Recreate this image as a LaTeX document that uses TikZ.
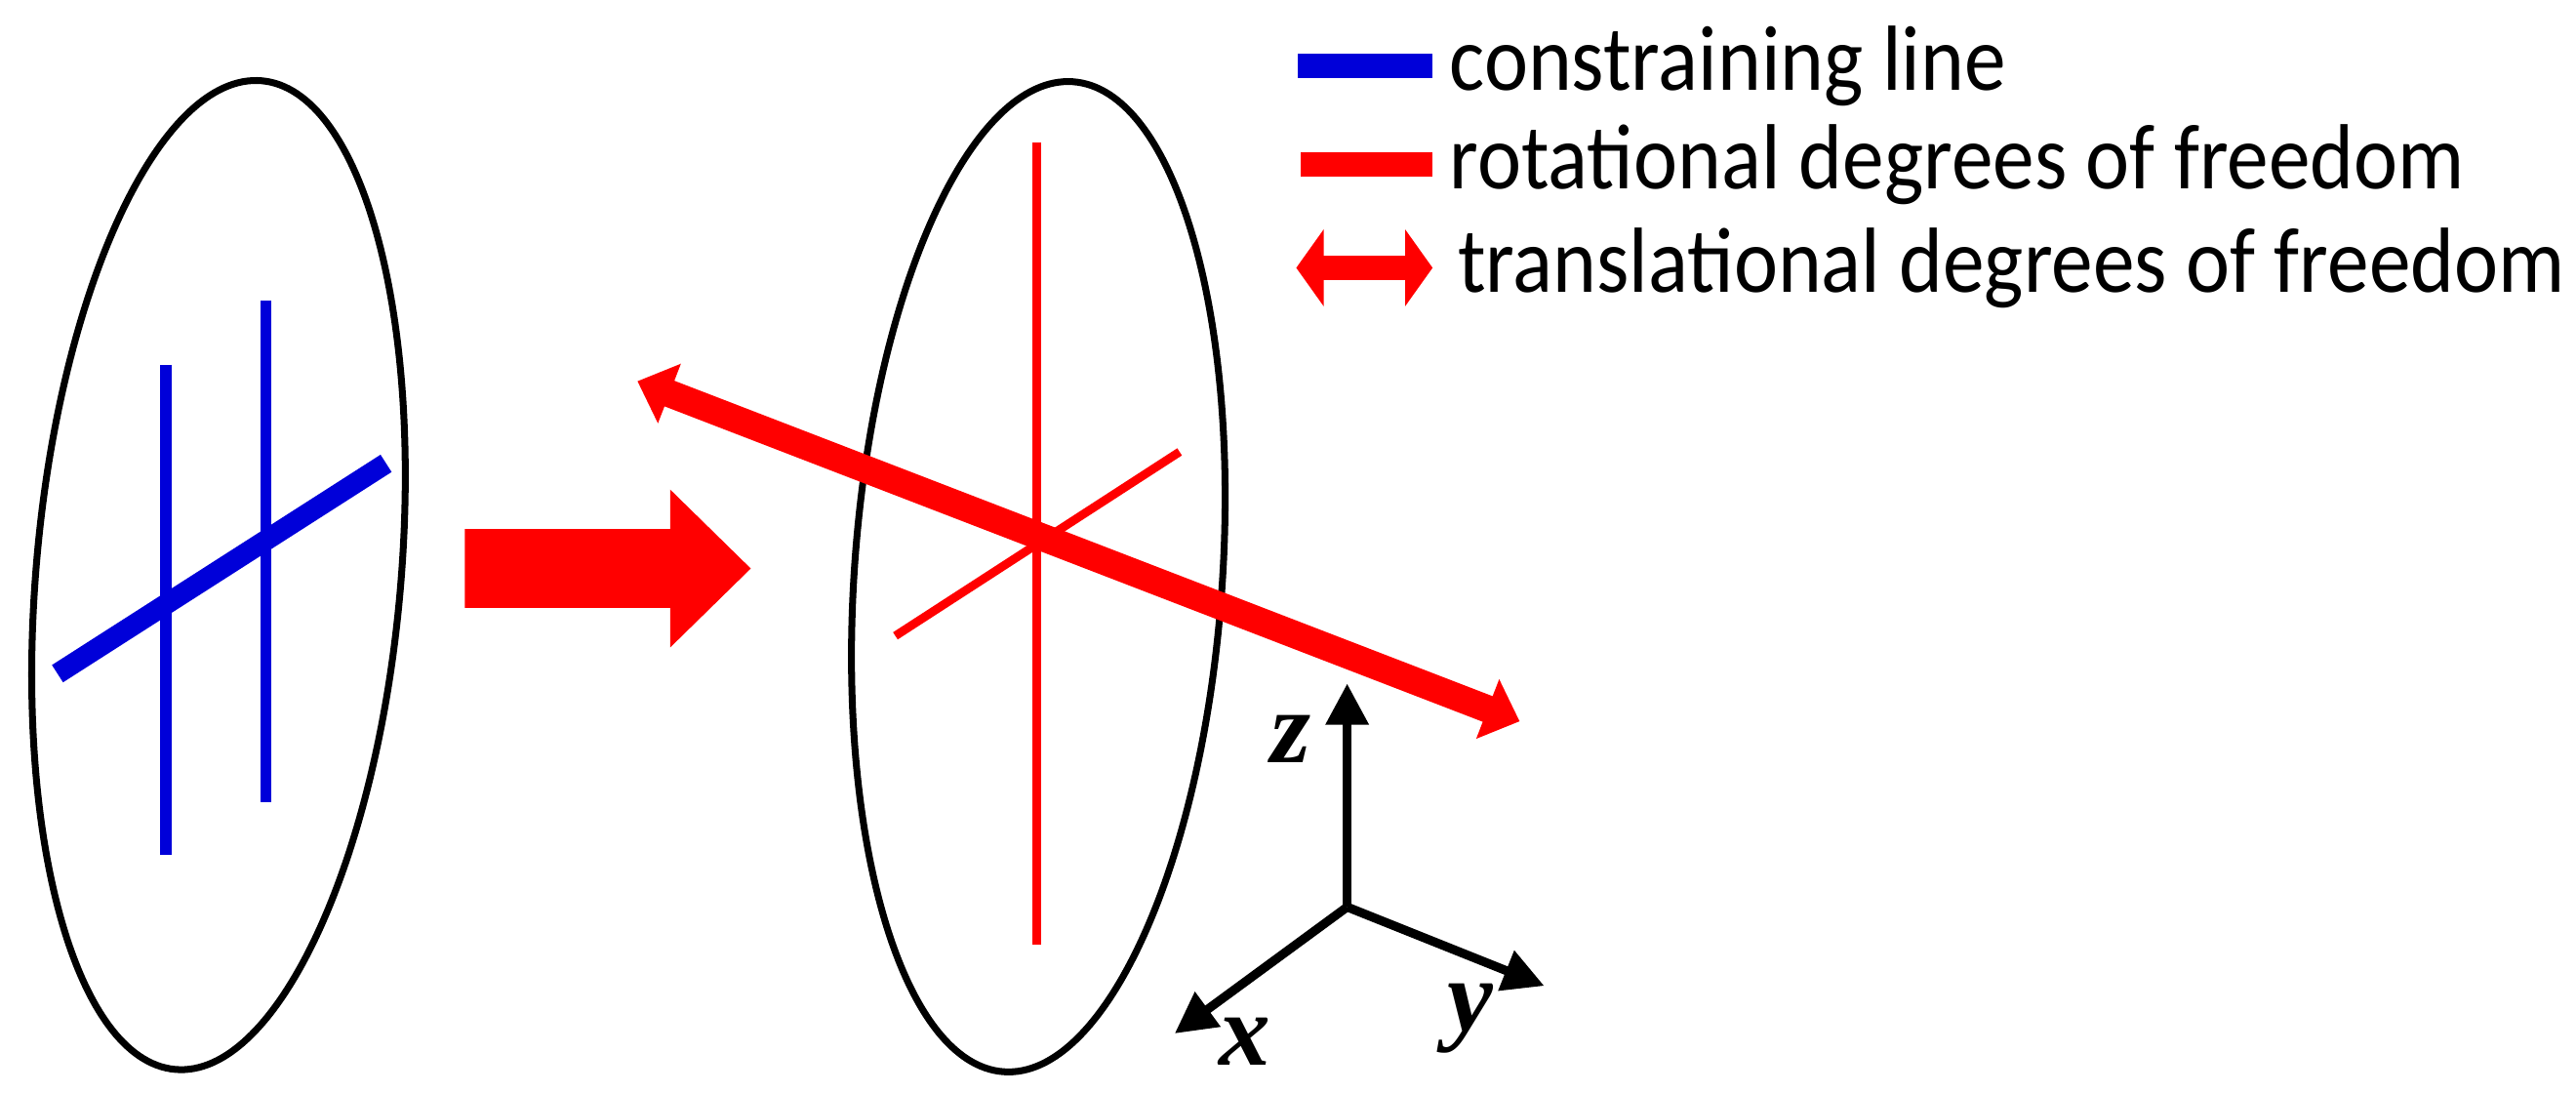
\documentclass[tikz,border=0pt]{standalone}
\usepackage{fontspec}
\setmainfont[FakeStretch=0.9]{Carlito}
\newfontfamily\axfont{Liberation Serif}
\usetikzlibrary{positioning}
\usetikzlibrary{arrows.meta}

\tikzset{
  plate/.style={black, line width=2pt},
  cline/.style={draw=blue!85!black, line width=3.2pt},
  cdiag/.style={draw=blue!85!black, line width=6pt},
  rline/.style={draw=red, line width=2.5pt},
  tarrow/.style={draw=red, line width=8pt, {Triangle[length=10pt,width=18pt]}-{Triangle[length=10pt,width=18pt]}},
  axis/.style={black, line width=2.6pt, -{Triangle[length=12pt,width=12pt]}},
  axlabel/.style={font=\fontsize{30}{30}\selectfont\axfont\bfseries\itshape},
  legtext/.style={anchor=west, font=\fontsize{27}{27}\selectfont, inner sep=0pt}
}

\begin{document}
\begin{tikzpicture}[x=0.01684cm, y=-0.01684cm]
\useasboundingbox (0,0) rectangle (1568,665);
%plates
\draw[plate, rotate around={-5:(133,350)}] (133,350) ellipse (111 and 302);
\draw[plate, rotate around={-4:(632,351)}] (632,351) ellipse (112 and 302);
%constraining lines
\coordinate (b1t) at (101,222); \coordinate (b1b) at (101,520);
\coordinate (b2t) at (162,183); \coordinate (b2b) at (162,488);
\coordinate (bdl) at (35,410); \coordinate (bdr) at (235,282);
\draw[cline] (b1t) -- (b1b);
\draw[cline] (b2t) -- (b2b);
\draw[cdiag] (bdl) -- (bdr);
%big arrow
\fill[red] (283,322) -- (408,322) -- (408,298) -- (457,346) -- (408,394) -- (408,370) -- (283,370) -- cycle;
%rotational
\coordinate (rvt) at (631,87); \coordinate (rvb) at (631,575);
\coordinate (rdl) at (545,387); \coordinate (rdr) at (718,275);
\draw[rline] (rvt) -- (rvb);
\draw[rline] (rdl) -- (rdr);
%translational
\coordinate (tl) at (388,232); \coordinate (tr) at (925,439);
\draw[tarrow] (tl) -- (tr);
%axes
\coordinate (o) at (820,552);
\coordinate (az) at (820,416);
\coordinate (ay) at (940,600);
\coordinate (ax) at (715,629);
\draw[axis] (o) -- (az);
\draw[axis] (o) -- (ay);
\draw[axis] (o) -- (ax);
\node[axlabel] (lz) at (786,450) {z};
\node[axlabel] (ly) at (895,620) {y};
\node[axlabel] (lx) at (758,634) {x};
%legend
\coordinate (l1a) at (790,40); \coordinate (l1b) at (872,40);
\coordinate (l2a) at (792,100); \coordinate (l2b) at (872,100);
\coordinate (l3a) at (789,163); \coordinate (l3b) at (872,163);
\draw[draw=blue!85!black, line width=7pt] (l1a) -- (l1b);
\draw[draw=red, line width=7pt] (l2a) -- (l2b);
\draw[draw=red, line width=7pt, {Triangle[length=8pt,width=22pt]}-{Triangle[length=8pt,width=22pt]}] (l3a) -- (l3b);
\node[legtext] (t1) at (882,40) {constraining line};
\node[legtext] (t2) at (882,100) {rotational degrees of freedom};
\node[legtext] (t3) at (887,163) {translational degrees of freedom};
\end{tikzpicture}
\end{document}
